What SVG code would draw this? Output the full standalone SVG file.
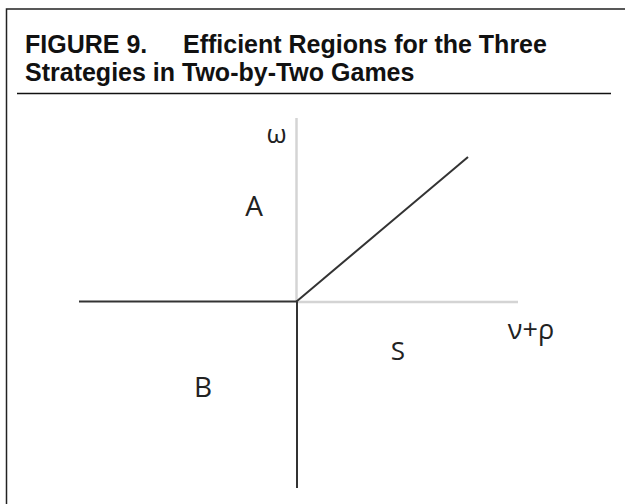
<svg xmlns="http://www.w3.org/2000/svg" width="625" height="504" viewBox="0 0 625 504">
<style>
.title{font-family:"Liberation Sans",Arial,sans-serif;font-weight:bold;font-size:25px;fill:#111}
.lbl{font-family:"Open Sans","Noto Sans",sans-serif;fill:#222}
.gray{stroke:#d4d4d4;stroke-width:2.5;fill:none}
.dark{stroke:#333;stroke-width:2;fill:none}
</style>
<rect width="625" height="504" fill="#fff"/>
<path d="M6.5,504 V9 H625" stroke="#222" stroke-width="1.5" fill="none"/>
<text class="title" x="25" y="53">FIGURE 9.<tspan x="183">Efficient Regions for the Three</tspan></text>
<text class="title" x="25" y="81">Strategies in Two-by-Two Games</text>
<line x1="17" y1="93.5" x2="611" y2="93.5" stroke="#111" stroke-width="1.5"/>
<g id="connectors">
<line class="gray" x1="296.5" y1="118" x2="296.5" y2="301.5"/>
<line class="gray" x1="296.5" y1="302" x2="518" y2="302"/>
<line class="dark" x1="79" y1="301.5" x2="297" y2="301.5"/>
<line class="dark" x1="297" y1="301.5" x2="297" y2="488"/>
<line class="dark" x1="296.5" y1="301.5" x2="468" y2="157" stroke-width="1.5"/>
</g>
<g id="omega"><text class="lbl" x="276.5" y="143" font-size="26" text-anchor="middle">ω</text></g>
<g id="A"><text class="lbl" x="254" y="216" font-size="28" text-anchor="middle">A</text></g>
<g id="S"><text class="lbl" x="398" y="360" font-size="26" text-anchor="middle">S</text></g>
<g id="B"><text class="lbl" x="203" y="397" font-size="28" text-anchor="middle">B</text></g>
<g id="nurho"><text class="lbl" x="531" y="339" font-size="27" text-anchor="middle">ν+ρ</text></g>
</svg>
